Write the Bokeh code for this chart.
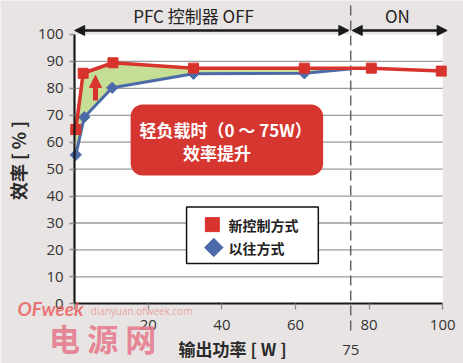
import math
from bokeh.plotting import figure
from bokeh.models import Range1d, FixedTicker, BoxAnnotation, Arrow, NormalHead, Label
from bokeh.embed import file_html
from bokeh.resources import INLINE
from bokeh.core.properties import value

# ---- data ----
new_x = [0.3, 2.3, 10.4, 32.3, 62.4, 80.6, 99.6]
new_y = [64.7, 85.6, 89.5, 87.5, 87.5, 87.5, 86.4]
old_x = [0.3, 2.6, 10.2, 32.3, 62.4, 75.4]
old_y = [55.3, 69.3, 80.2, 85.4, 85.6, 87.3]
x_ticks = [0, 20, 40, 60, 80, 100]
y_ticks = [0, 10, 20, 30, 40, 50, 60, 70, 80, 90, 100]
boundary_w = 75
legend_labels = ["新控制方式", "以往方式"]

RED = "#d8332d"
BLUE = "#4b6aa8"
GREEN = "#c6dd96"
BG = "#e8e4e3"
CJK = "Noto Sans CJK SC"

# frame covers the whole canvas; axes are pinned at x=0 / y=0
p = figure(width=463, height=363,
           x_range=Range1d(-20.16, 105.65), y_range=Range1d(-22.17, 112.62),
           output_backend="svg", toolbar_location=None,
           min_border_left=0, min_border_right=0, min_border_top=0, min_border_bottom=0)
p.background_fill_color = BG
p.border_fill_color = BG
p.outline_line_color = None
p.xgrid.visible = False
p.ygrid.visible = False

# white plotting area
p.quad(left=[x_ticks[0]], right=[x_ticks[-1]], bottom=[y_ticks[0]], top=[y_ticks[-1]],
       fill_color="#ffffff", line_color=None, level="image")
# horizontal grid lines
grid_y = y_ticks[1:-1]
p.segment(x0=[x_ticks[0]] * len(grid_y), y0=grid_y, x1=[x_ticks[-1]] * len(grid_y), y1=grid_y,
          line_color="#9a9a9a", line_width=1.3)

p.xaxis.ticker = FixedTicker(ticks=x_ticks)
p.yaxis.ticker = FixedTicker(ticks=y_ticks)
p.xaxis.major_label_overrides = {0: ""}
for ax in (p.xaxis[0], p.yaxis[0]):
    ax.fixed_location = 0
    ax.bounds = (0, 100)
    ax.axis_line_color = "#1a1a1a"
    ax.axis_line_width = 2.2
    ax.major_tick_line_color = "#8a8a8a"
    ax.major_tick_line_width = 1.3
    ax.major_tick_in = 0
    ax.minor_tick_line_color = None
    ax.major_label_text_font = "Open Sans"
    ax.major_label_text_font_size = "15px"
    ax.major_label_text_color = "#333333"
p.yaxis.major_tick_out = 5
p.yaxis.major_label_standoff = 6
p.xaxis.major_tick_out = 6
p.xaxis.major_label_standoff = 10

# green improvement area
n_in = sum(1 for x in new_x if x < old_x[-1])
poly_x = new_x[:n_in] + old_x[::-1]
poly_y = new_y[:n_in] + old_y[::-1]
p.patch(poly_x, poly_y, fill_color=GREEN, line_color=None)

# dashed boundary at 75 W
p.segment(x0=[boundary_w], y0=[110.8], x1=[boundary_w], y1=[-11.8],
          line_color="#666666", line_width=1.5, line_dash="10 5")

# series
p.line(old_x, old_y, line_color=BLUE, line_width=3)
p.scatter(old_x[:-1], old_y[:-1], marker="square", angle=math.pi / 4, size=8,
          fill_color=BLUE, line_color=BLUE)
p.line(new_x, new_y, line_color=RED, line_width=3.5)
p.scatter(new_x, new_y, marker="square", size=10, fill_color=RED, line_color=RED)

# legend (manual)
p.quad(left=[30.4], right=[66.2], top=[35.9], bottom=[15.0],
       fill_color="#ffffff", line_color="#111111", line_width=1.5)
p.scatter([37.4], [29.4], marker="square", size=14, fill_color=RED, line_color=RED)
p.scatter([37.8], [20.9], marker="square", angle=math.pi / 4, size=13,
          fill_color=BLUE, line_color=BLUE)
p.text([41.8, 41.8], [29.4, 20.9], text=legend_labels, text_font=value(CJK),
       text_font_size="14px", text_font_style="bold", text_color="#222222",
       text_baseline="middle", text_align="left")

# callout box
p.add_layout(BoxAnnotation(left=15.2, right=67.5, top=74.0, bottom=47.6,
                           fill_color="#d5362f", fill_alpha=1.0, line_color=None,
                           border_radius=12))
p.add_layout(Label(x=41.0, y=64.7, text="轻负载时（0 ～ 75W）", text_font=CJK,
                   text_font_size="17px", text_font_style="bold", text_color="#ffffff",
                   text_align="center", text_baseline="middle"))
p.add_layout(Label(x=38.7, y=56.3, text="效率提升", text_font=CJK,
                   text_font_size="17px", text_font_style="bold", text_color="#ffffff",
                   text_align="center", text_baseline="middle"))

# red up-arrow
p.add_layout(Arrow(end=NormalHead(size=12, fill_color=RED, line_color=RED),
                   x_start=5.65, y_start=75.5, x_end=5.65, y_end=84.8,
                   line_color=RED, line_width=5))

# top range arrows
for xs, xe in [(0, 74.5), (75.4, 101.2)]:
    p.add_layout(Arrow(start=NormalHead(size=10, fill_color="#1a1a1a", line_color="#1a1a1a"),
                       end=NormalHead(size=10, fill_color="#1a1a1a", line_color="#1a1a1a"),
                       x_start=xs, y_start=101.5, x_end=xe, y_end=101.5,
                       line_color="#1a1a1a", line_width=2.5))
p.add_layout(Label(x=32.3, y=107.1, text="PFC 控制器 OFF", text_font=CJK,
                   text_font_size="17px", text_color="#222222",
                   text_align="center", text_baseline="middle"))
p.add_layout(Label(x=87.7, y=107.1, text="ON", text_font=CJK,
                   text_font_size="17px", text_color="#222222",
                   text_align="center", text_baseline="middle"))

# axis titles
p.add_layout(Label(x=42.9, y=-16.6, text="输出功率 [ W ]", text_font=CJK,
                   text_font_size="17px", text_font_style="bold", text_color="#2a2a2a",
                   text_align="center", text_baseline="middle"))
p.add_layout(Label(x=boundary_w, y=-17.3, text=str(boundary_w), text_font="Open Sans",
                   text_font_size="15px", text_color="#333333",
                   text_align="center", text_baseline="middle"))
p.add_layout(Label(x=-15.3, y=53.2, text="效率 [ % ]", angle=90, angle_units="deg",
                   text_font=CJK, text_font_size="18px", text_font_style="bold",
                   text_color="#2a2a2a", text_align="center", text_baseline="middle"))

# watermark
p.add_layout(Label(x=-6.6, y=-1.7, text="OFweek", text_font="Lato",
                   text_font_size="19px", text_font_style="bold italic", text_color="#e8605f",
                   text_alpha=0.85, text_align="center", text_baseline="middle"))
p.add_layout(Label(x=4.3, y=-2.5, text="dianyuan.ofweek.com", text_font="Open Sans",
                   text_font_size="10px", text_color="#e89a9a", text_alpha=0.9,
                   text_align="left", text_baseline="middle"))
p.add_layout(Label(x=7.6, y=-12.5, text="电 源 网", text_font=CJK,
                   text_font_size="31px", text_font_style="bold", text_color="#e57a8c",
                   text_alpha=0.9, text_align="center", text_baseline="middle"))

html = file_html(p, INLINE)
html = html.replace("<body>", '<body style="margin:0;background-color:%s;">' % BG, 1)
open("out.html", "w").write(html)
